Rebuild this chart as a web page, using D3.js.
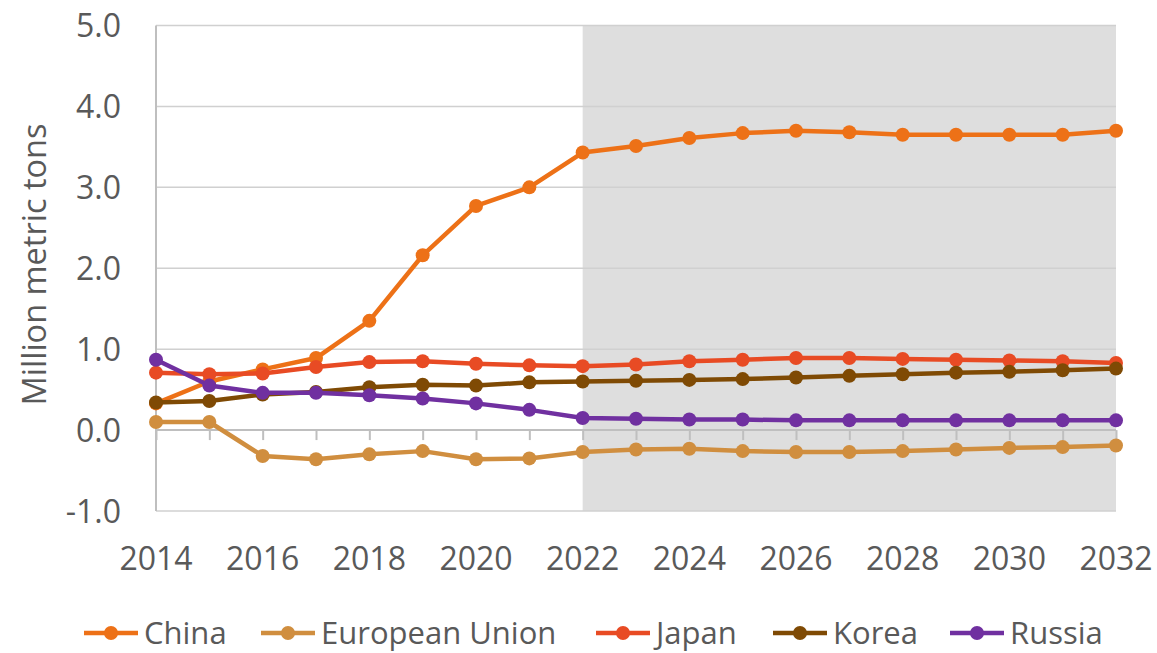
<!DOCTYPE html>
<html>
<head>
<meta charset="utf-8">
<script src="https://cdn.jsdelivr.net/npm/d3@7"></script>
<style>
  body { margin: 0; background: #fff; }
  svg { display: block; font-family: "Open Sans", sans-serif; }
</style>
</head>
<body>
<svg id="chart"></svg>
<script>
const years = d3.range(2014, 2033)
const yTicks = [-1, 0, 1, 2, 3, 4, 5]
const xLabels = [2014, 2016, 2018, 2020, 2022, 2024, 2026, 2028, 2030, 2032]
const projectionStart = 2022

const china = [0.33, 0.60, 0.75, 0.89, 1.35, 2.16, 2.77, 3.00, 3.43, 3.51, 3.61, 3.67, 3.70, 3.68, 3.65, 3.65, 3.65, 3.65, 3.70]
const eu = [0.10, 0.10, -0.32, -0.36, -0.30, -0.26, -0.36, -0.35, -0.27, -0.24, -0.23, -0.26, -0.27, -0.27, -0.26, -0.24, -0.22, -0.21, -0.19]
const japan = [0.71, 0.69, 0.70, 0.78, 0.84, 0.85, 0.82, 0.80, 0.79, 0.81, 0.85, 0.87, 0.89, 0.89, 0.88, 0.87, 0.86, 0.85, 0.83]
const korea = [0.34, 0.36, 0.44, 0.47, 0.53, 0.56, 0.55, 0.59, 0.60, 0.61, 0.62, 0.63, 0.65, 0.67, 0.69, 0.71, 0.72, 0.74, 0.76]
const russia = [0.87, 0.55, 0.46, 0.46, 0.43, 0.39, 0.33, 0.25, 0.15, 0.14, 0.13, 0.13, 0.12, 0.12, 0.12, 0.12, 0.12, 0.12, 0.12]

const series = [
  { label: "China", color: "#ED7117", data: china },
  { label: "European Union", color: "#D08E3F", data: eu },
  { label: "Japan", color: "#E84B24", data: japan },
  { label: "Korea", color: "#7F4A04", data: korea },
  { label: "Russia", color: "#7030A0", data: russia }
]

const W = 1157, H = 653
const svg = d3.select("#chart").attr("width", W).attr("height", H)

const x = d3.scaleLinear().domain([2014, 2032]).range([156, 1116])
const y = d3.scaleLinear().domain([-1, 5]).range([511, 25.5])

// projection shading
svg.append("rect")
  .attr("x", x(projectionStart))
  .attr("y", y(5))
  .attr("width", x(2032) - x(projectionStart))
  .attr("height", y(-1) - y(5))
  .attr("fill", "#DEDEDE")

// gridlines
svg.append("g")
  .selectAll("line")
  .data(yTicks)
  .join("line")
    .attr("x1", x(2014)).attr("x2", x(2032))
    .attr("y1", d => y(d)).attr("y2", d => y(d))
    .attr("stroke", d => d === 0 ? "#BFBFBF" : "#D0D0D0")
    .attr("stroke-width", d => d === 0 ? 2 : 1.5)

// y axis line
svg.append("line")
  .attr("x1", x(2014)).attr("x2", x(2014))
  .attr("y1", y(5)).attr("y2", y(-1))
  .attr("stroke", "#BFBFBF").attr("stroke-width", 2)

// x axis at zero with ticks
const xAxis = svg.append("g")
  .attr("transform", `translate(0,${y(0)})`)
  .call(d3.axisBottom(x).tickValues(years).tickSize(10).tickFormat(""))
xAxis.select(".domain").remove()
xAxis.selectAll(".tick line").attr("stroke", "#BFBFBF").attr("stroke-width", 2)

// x labels at bottom
svg.append("g")
  .selectAll("text")
  .data(xLabels)
  .join("text")
    .attr("x", d => x(d))
    .attr("y", 570)
    .attr("text-anchor", "middle")
    .attr("font-size", 32)
    .attr("fill", "#595959")
    .text(d => d)

// y labels (plain hyphen for negatives, like the original)
svg.append("g")
  .selectAll("text")
  .data(yTicks)
  .join("text")
    .attr("x", 121)
    .attr("y", d => y(d) + 11.5)
    .attr("text-anchor", "end")
    .attr("font-size", 32)
    .attr("fill", "#595959")
    .text(d => d.toFixed(1))

// y axis title
svg.append("text")
  .attr("transform", `translate(46,${(122 + 407) / 2}) rotate(-90)`)
  .attr("text-anchor", "middle")
  .attr("font-size", 32.5)
  .attr("fill", "#595959")
  .text("Million metric tons")

// series
const line = d3.line().x((d, i) => x(years[i])).y(d => y(d))
for (const s of series) {
  const g = svg.append("g")
  g.append("path")
    .datum(s.data)
    .attr("fill", "none")
    .attr("stroke", s.color)
    .attr("stroke-width", 4.5)
    .attr("stroke-linejoin", "round")
    .attr("d", line)
  g.selectAll("circle")
    .data(s.data)
    .join("circle")
      .attr("cx", (d, i) => x(years[i]))
      .attr("cy", d => y(d))
      .attr("r", 7)
      .attr("fill", s.color)
}

// legend
const legendX = [111, 288, 623, 800, 977]
const legendY = 633
const legend = svg.append("g")
series.forEach((s, i) => {
  const cx = legendX[i]
  legend.append("line")
    .attr("x1", cx - 27).attr("x2", cx + 27)
    .attr("y1", legendY).attr("y2", legendY)
    .attr("stroke", s.color).attr("stroke-width", 4.5)
  legend.append("circle")
    .attr("cx", cx).attr("cy", legendY).attr("r", 7)
    .attr("fill", s.color)
  legend.append("text")
    .attr("x", cx + 33)
    .attr("y", legendY + 10.5)
    .attr("font-size", 31)
    .attr("fill", "#595959")
    .text(s.label)
})
</script>
</body>
</html>
